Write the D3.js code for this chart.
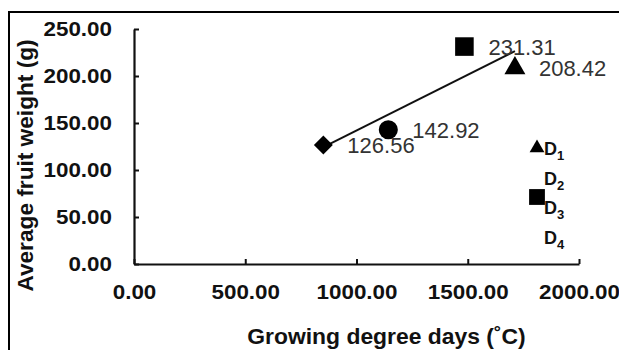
<!DOCTYPE html>
<html>
<head>
<meta charset="utf-8">
<script src="https://cdn.jsdelivr.net/npm/d3@7"></script>
<style>
  body { margin: 0; background: #fff; }
  svg text { font-family: "Liberation Sans", Arial, sans-serif; }
</style>
</head>
<body>
<div id="chart"></div>
<script>
// data
var gdd = [851, 1143, 1485, 1712];
var fruitWeight = [126.56, 142.92, 231.31, 208.42];
var shapes = ["diamond", "circle", "square", "triangle"];
var trendX = [851, 1712];
var trendY = [124.3, 226.4];
var xTicks = [0, 500, 1000, 1500, 2000];
var yTicks = [0, 50, 100, 150, 200, 250];
var legendNames = ["1", "2", "3", "4"];

var svgWidth = 619;
var svgHeight = 350;

var svg = d3.select("#chart")
  .append("svg")
  .attr("width", svgWidth)
  .attr("height", svgHeight);

// frame round the figure
svg.append("path")
  .attr("d", "M9,350V12H619")
  .attr("fill", "none")
  .attr("stroke", "#000")
  .attr("stroke-width", 2);

var x = d3.scaleLinear().domain([0, 2000]).range([134, 579]);
var y = d3.scaleLinear().domain([0, 250]).range([264, 29]);

function stretch(sel, k) {
  sel.each(function() {
    var len = this.getComputedTextLength();
    d3.select(this)
      .attr("textLength", len * k)
      .attr("lengthAdjust", "spacingAndGlyphs");
  });
}

// axes
var xAxis = svg.append("g")
  .attr("transform", "translate(0,264)")
  .call(d3.axisBottom(x).tickValues(xTicks).tickSize(-5).tickSizeOuter(0)
    .tickFormat(d3.format(".2f")));

var yAxis = svg.append("g")
  .attr("transform", "translate(134,0)")
  .call(d3.axisLeft(y).tickValues(yTicks).tickSize(-5).tickSizeOuter(0)
    .tickPadding(22).tickFormat(d3.format(".2f")));

[xAxis, yAxis].forEach(function(g) {
  g.select(".domain").attr("stroke", "#111").attr("stroke-width", 2.2);
  g.selectAll(".tick line").attr("stroke", "#111").attr("stroke-width", 2);
  g.selectAll(".tick text")
    .attr("fill", "#111")
    .attr("font-size", 20)
    .attr("font-weight", "bold")
    .attr("font-family", "Liberation Sans, Arial, sans-serif");
});
xAxis.selectAll(".tick text").attr("y", 35).attr("dy", null);
stretch(xAxis.selectAll(".tick text"), 1.12);
stretch(yAxis.selectAll(".tick text"), 1.12);

// axis titles
var xTitle = svg.append("text")
  .attr("x", 386.5)
  .attr("y", 344)
  .attr("text-anchor", "middle")
  .attr("font-size", 22)
  .attr("font-weight", "bold")
  .attr("fill", "#111")
  .text("Growing degree days (˚C)");
stretch(xTitle, 1.04);

var yTitle = svg.append("text")
  .attr("transform", "translate(33,165.5) rotate(-90)")
  .attr("text-anchor", "middle")
  .attr("font-size", 22)
  .attr("font-weight", "bold")
  .attr("fill", "#111")
  .text("Average fruit weight (g)");
stretch(yTitle, 1.03);

// trend line
var line = d3.line()
  .x(function(d) { return x(d[0]); })
  .y(function(d) { return y(d[1]); });

svg.append("path")
  .datum(d3.zip(trendX, trendY))
  .attr("d", line)
  .attr("fill", "none")
  .attr("stroke", "#111")
  .attr("stroke-width", 2);

// markers
var symbolFor = {
  diamond: d3.symbol().type(d3.symbolSquare).size(180),
  circle: d3.symbol().type(d3.symbolCircle).size(285),
  square: d3.symbol().type(d3.symbolSquare).size(345),
  triangle: d3.symbol().type(d3.symbolTriangle).size(190)
};

var points = d3.range(gdd.length).map(function(i) {
  return { x: gdd[i], y: fruitWeight[i], shape: shapes[i] };
});

svg.selectAll(".pt")
  .data(points)
  .enter()
  .append("path")
  .attr("class", "pt")
  .attr("d", function(d) { return symbolFor[d.shape](); })
  .attr("transform", function(d) {
    var t = "translate(" + x(d.x) + "," + y(d.y) + ")";
    return d.shape === "diamond" ? t + " rotate(45)" : t;
  })
  .attr("fill", "#000");

svg.selectAll(".val")
  .data(points)
  .enter()
  .append("text")
  .attr("class", "val")
  .attr("x", function(d) { return x(d.x) + 24; })
  .attr("y", function(d) { return y(d.y) + 8; })
  .attr("font-size", 22)
  .attr("fill", "#333")
  .text(function(d) { return d.y.toFixed(2); });

// legend, D1..D4
var legend = svg.append("g");
var rowY = [155, 185, 214, 244];

legendNames.forEach(function(n, i) {
  var t = legend.append("text")
    .attr("x", 544)
    .attr("y", rowY[i])
    .attr("font-size", 18)
    .attr("font-weight", "bold")
    .attr("fill", "#111");
  t.append("tspan").text("D");
  t.append("tspan").attr("font-size", 13).attr("dy", 5).text(n);
});

legend.append("path")
  .attr("d", d3.symbol().type(d3.symbolTriangle).size(95)())
  .attr("transform", "translate(537,148)")
  .attr("fill", "#000");

legend.append("path")
  .attr("d", d3.symbol().type(d3.symbolSquare).size(250)())
  .attr("transform", "translate(537,197)")
  .attr("fill", "#000");
</script>
</body>
</html>
